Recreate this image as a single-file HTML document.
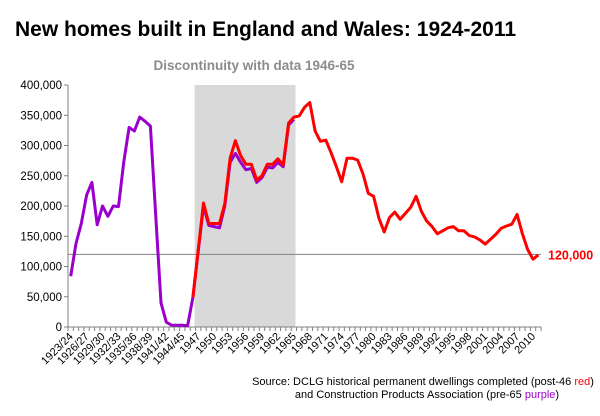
<!DOCTYPE html>
<html><head><meta charset="utf-8"><style>
body{margin:0;background:#fff;}
svg{display:block;font-family:"Liberation Sans",Arial,sans-serif;}
</style></head><body>
<svg id="chart" width="600" height="416" viewBox="0 0 600 416">
<rect width="600" height="416" fill="#fff"/>
<text x="15" y="36" font-size="21" font-weight="bold" fill="#000">New homes built in England and Wales: 1924-2011</text>
<rect id="shade" fill="#d9d9d9"/>
<text x="254" y="70" font-size="13.5" font-weight="bold" fill="#8c8c8c" text-anchor="middle">Discontinuity with data 1946-65</text>
<g id="axes"></g>
<g id="series"></g>
<text x="423" y="385" font-size="11" text-anchor="middle" fill="#000">Source: DCLG historical permanent dwellings completed (post-46 <tspan fill="#ff0000">red</tspan>)</text>
<text x="427" y="398" font-size="11" text-anchor="middle" fill="#000">and Construction Products Association (pre-65 <tspan fill="#9900cc">purple</tspan>)</text>
</svg>
<script>
const categories = (function(){const c=[];for(let y=1923;y<=1944;y++)c.push(y+'/'+String(y+1).slice(2));for(let y=1945;y<=2011;y++)c.push(String(y));return c;})();
const purpleStart = 0;
const purpleValues = [84000,138000,171000,218000,239000,169000,200000,183000,200000,199000,273000,330000,324000,347000,340000,332000,185000,40000,8000,3000,3000,3000,2000,49000,125000,200000,168000,166000,164000,200000,272000,287000,272000,260000,262000,239000,247000,264000,263000,272000,265000,334000,343000];
const redStart = 23;
const redValues = [49000,127000,205000,171000,171000,171000,204000,279000,308000,283000,269000,269000,243000,250000,269000,269000,278000,268000,337000,347000,349000,363000,371000,324000,307000,309000,288000,265000,240000,279000,279000,276000,253000,221000,216000,180000,157000,181000,190000,178000,188000,198000,216000,191000,175000,166000,154000,159000,164000,166000,159000,159000,151000,149000,144000,137000,145000,153000,163000,167000,170000,186000,154000,128000,112000,119000];
const yTicks = [0,50000,100000,150000,200000,250000,300000,350000,400000];
const refValue = 120000;
const shadeRange = [1947,1965];

const X0=68,X1=541,Y0=327,Y1=85,YMAX=400000;
const step=(X1-X0)/categories.length;
const xs=i=>X0+(i+0.5)*step;
const ys=v=>Y0-(v/YMAX)*(Y0-Y1);
const NS='http://www.w3.org/2000/svg';
function mk(tag,attrs,parent){const e=document.createElementNS(NS,tag);for(const k in attrs)e.setAttribute(k,attrs[k]);parent.appendChild(e);return e;}
const axes=document.getElementById('axes'),series=document.getElementById('series');
const sh=document.getElementById('shade');
const si=categories.indexOf(String(shadeRange[0])),ei=categories.indexOf(String(shadeRange[1]));
sh.setAttribute('x',X0+si*step-1);sh.setAttribute('y',Y1);sh.setAttribute('width',(ei+1-si)*step);sh.setAttribute('height',Y0-Y1);
yTicks.forEach(v=>{
  const t=mk('text',{x:X0-6,y:ys(v)+4,'font-size':11.5,'text-anchor':'end',fill:'#000'},axes);
  
  
  t.textContent=v.toLocaleString('en-US');
  const l=mk('line',{x1:X0-4,x2:X0,y1:ys(v),y2:ys(v),stroke:'#808080'},axes);
  
  
});
const ya=mk('line',{x1:X0,x2:X0,y1:Y1,y2:Y0,stroke:'#808080'},axes);


const xa=mk('line',{x1:X0,x2:X1,y1:Y0,y2:Y0,stroke:'#808080'},axes);


for(let i=0;i<=categories.length;i++){
  const tk=mk('line',{x1:X0+i*step,x2:X0+i*step,y1:Y0,y2:Y0+4,stroke:'#808080'},axes);
  
  
}
categories.forEach((c,i)=>{
  if(i%3!==0)return;
  const x=xs(i)+3,y=Y0+10;
  const t=mk('text',{x:x,y:y,'font-size':11,'text-anchor':'end',transform:`rotate(-45 ${x} ${y})`,fill:'#000'},axes);
  
  
  t.textContent=c;
});
const rl=mk('line',{x1:X0,x2:X1,y1:ys(refValue),y2:ys(refValue),stroke:'#808080'},series);


function line(vals,start,color,name){
  const d=vals.map((v,k)=>(k?'L':'M')+xs(start+k).toFixed(1)+' '+ys(v).toFixed(1)).join(' ');
  const p=mk('path',{d:d,fill:'none',stroke:color,'stroke-width':3,'stroke-linejoin':'round'},series);
  
  
}
line(purpleValues,purpleStart,'#9900cc','purple-series');
line(redValues,redStart,'#ff0000','red-series');
const rt=mk('text',{x:X1+7,y:ys(refValue)+5,'font-size':12.5,'font-weight':'bold',fill:'#ff0000'},series);


rt.textContent=refValue.toLocaleString('en-US');
</script>
</body></html>
